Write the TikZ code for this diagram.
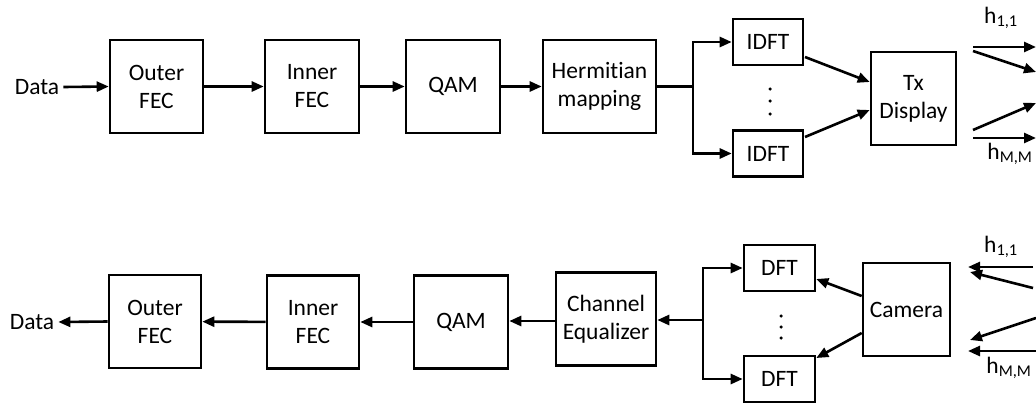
\documentclass[tikz,border=0pt]{standalone}
\usepackage{fontspec}
\setmainfont{Carlito}[Ligatures=NoCommon]
\usetikzlibrary{arrows.meta,calc}
\tikzset{
  txt/.style={font=\fontsize{23.5}{28}\selectfont},
  blk/.style={draw, line width=2.6pt, minimum height=93pt, align=center, inner sep=0pt, txt},
  small/.style={draw, line width=2.6pt, minimum width=71pt, minimum height=46pt, inner sep=0pt, txt},
  lbl/.style={inner sep=0pt, txt},
  wire/.style={line width=2.6pt},
  arr/.style={line width=2.6pt, -{Triangle[length=12pt,width=10pt]}},
  dot/.style={fill, circle, inner sep=0pt, minimum size=3.5pt}
}
\begin{document}
\begin{tikzpicture}[x=1pt, y=-1pt]
\useasboundingbox (0,0) rectangle (1036,405);

% transmitter chain
\node[lbl] (dataT) at (37,87) {Data};
\node[blk, minimum width=93pt] (outerT) at (156.5,86.5) {Outer\\FEC};
\node[blk, minimum width=94pt] (innerT) at (312,86.5) {Inner\\FEC};
\node[blk, minimum width=94pt] (qamT) at (453,86.5) {QAM};
\node[blk, minimum width=113pt] (hermT) at (599.5,86.5) {Hermitian\\mapping};
\node[small, minimum width=70pt] (idft1) at (768,42) {IDFT};
\node[small, minimum width=70pt] (idft2) at (768,153.5) {IDFT};
\node[blk, minimum width=85pt] (tx) at (913.5,98.5) {Tx\\Display};

\draw[arr] ($(dataT.east)+(4,0)$) -- (outerT.west);
\draw[arr] (outerT) -- (innerT);
\draw[arr] (innerT) -- (qamT);
\draw[arr] (qamT) -- (hermT);
\coordinate (brT) at (693,86.5);
\draw[wire] (hermT.east) -- (brT);
\draw[arr] (brT) |- (idft1.west);
\draw[arr] (brT) |- (idft2.west);
\foreach \y in {89,101,114} \node[dot] at (770,\y) {};
\coordinate (i1o) at (805,57);
\coordinate (i2o) at (805,137);
\draw[arr] (i1o) -- (tx.west |- 0,82);
\draw[arr] (i2o) -- (tx.west |- 0,110);

% optical channel out of the display
\coordinate (a1) at (973,47);  \coordinate (b1) at (1036,47);
\coordinate (a2) at (973,51);  \coordinate (b2) at (1036,72);
\coordinate (a3) at (973,130); \coordinate (b3) at (1036,103);
\coordinate (a4) at (973,138); \coordinate (b4) at (1036,138);
\draw[arr] (a1) -- (b1);
\draw[arr] (a2) -- (b2);
\draw[arr] (a3) -- (b3);
\draw[arr] (a4) -- (b4);
\node[lbl] (h11T) at (1001,18) {h\textsubscript{1,1}};
\node[lbl] (hMMT) at (1010,154) {h\textsubscript{M,M}};

% receiver chain
\node[lbl] (dataB) at (32,322) {Data};
\node[blk, minimum width=92pt] (outerB) at (155,321.5) {Outer\\FEC};
\node[blk, minimum width=92pt] (innerB) at (313,322) {Inner\\FEC};
\node[blk, minimum width=94pt] (qamB) at (461,322) {QAM};
\node[blk, minimum width=100pt] (chanB) at (606,319) {Channel\\Equalizer};
\node[small] (dft1) at (779.5,268) {DFT};
\node[small] (dft2) at (779.5,379) {DFT};
\node[blk, minimum width=87pt] (cam) at (906.5,309.5) {Camera};

\draw[arr] (outerB.west) -- ($(dataB.east)+(4,0)$);
\draw[arr] (innerB) -- (outerB);
\draw[arr] (qamB) -- (innerB);
\draw[arr] (chanB.west |- 0,321) -- (qamB.east |- 0,321);
\coordinate (brB) at (703,320);
\draw[arr] (brB) -- (chanB.east |- brB);
\draw[arr] (brB) |- (dft1.west);
\draw[arr] (brB) |- (dft2.west);
\foreach \y in {316,327,338} \node[dot] at (781,\y) {};
\draw[arr] (cam.west |- 0,296) -- (dft1.east |- 0,279);
\draw[arr] (cam.west |- 0,333) -- (dft2.east |- 0,358);

% optical channel into the camera
\coordinate (c1) at (1033,267); \coordinate (d1) at (968,267);
\coordinate (c2) at (1033,288); \coordinate (d2) at (970,272);
\coordinate (c3) at (1036,318); \coordinate (d3) at (970,340);
\coordinate (c4) at (1036,351); \coordinate (d4) at (968,351);
\draw[arr] (c1) -- (d1);
\draw[arr] (c2) -- (d2);
\draw[arr] (c3) -- (d3);
\draw[arr] (c4) -- (d4);
\node[lbl] (h11B) at (1001,247) {h\textsubscript{1,1}};
\node[lbl] (hMMB) at (1009,368) {h\textsubscript{M,M}};
\end{tikzpicture}
\end{document}
